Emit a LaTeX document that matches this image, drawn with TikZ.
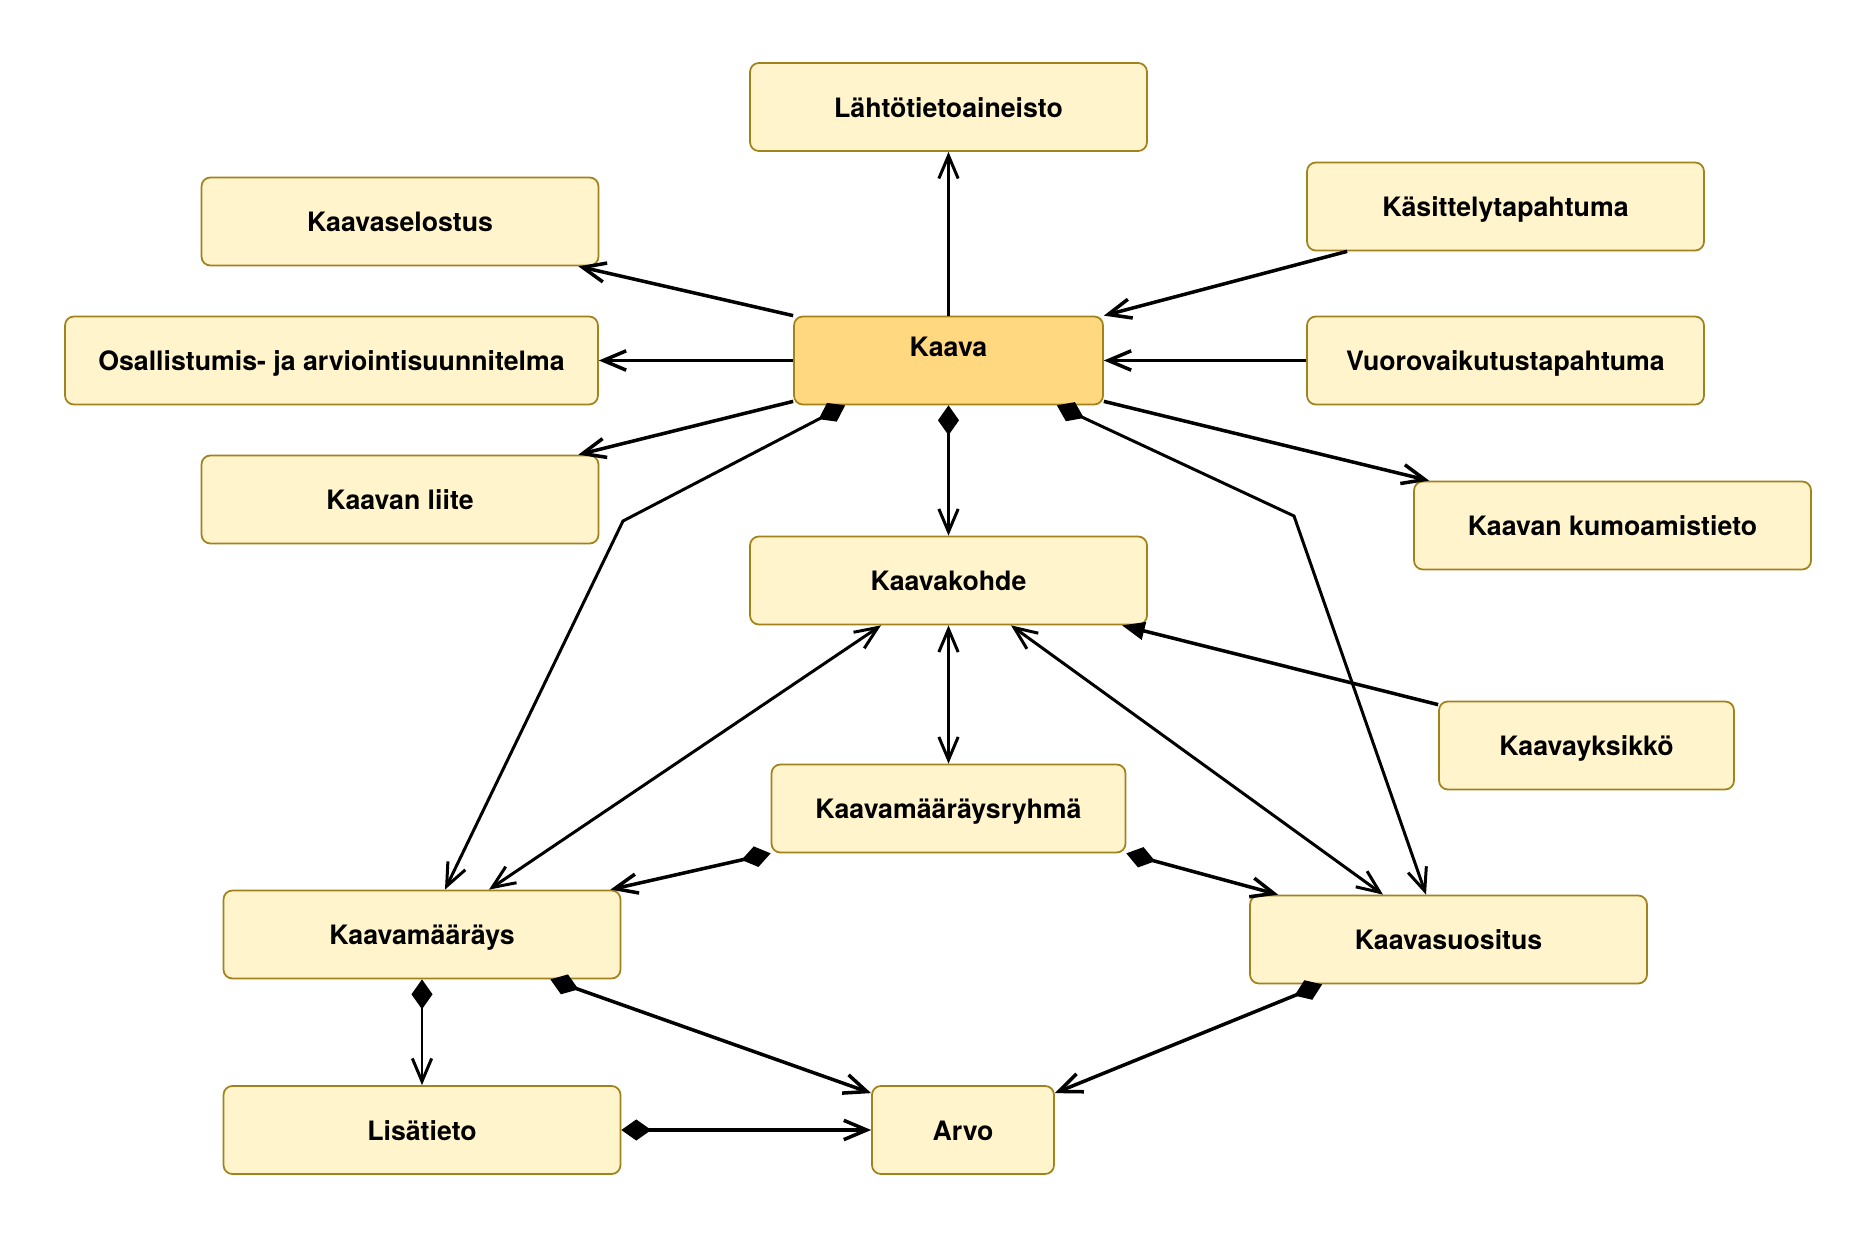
\documentclass[tikz,border=0pt]{standalone}
\usepackage{fontspec}
\setmainfont{TeX Gyre Heros}
\usetikzlibrary{arrows.meta}
\definecolor{boxfill}{HTML}{FFF4CC}
\definecolor{kaavafill}{HTML}{FFD880}
\definecolor{boxline}{HTML}{A2821A}
\begin{document}
\begin{tikzpicture}[x=0.02cm,y=-0.02cm,
  box/.style={draw=boxline, line width=1pt, fill=boxfill, rounded corners=5pt,
    minimum width=7.94cm, minimum height=1.76cm, inner sep=0pt,
    font=\bfseries\fontsize{15.2}{18}\selectfont, text height=1.44em, text depth=0.28em},
  conn/.style={line width=2pt, black},
  thinconn/.style={line width=1.7pt, black},
  toarr/.style={-{Straight Barb[length=13pt,width=11pt]}},
  twoarr/.style={{Straight Barb[length=13pt,width=11pt]}-{Straight Barb[length=13pt,width=11pt]}},
  diaarr/.style={{Diamond[length=17pt,width=12pt]}-{Straight Barb[length=13pt,width=11pt]}},
  triarr/.style={-{Triangle[length=13pt,width=10pt]}}]
\useasboundingbox[fill=white] (0,0) rectangle (1874,1239);

\node[box] (lahto) at (948.5,107) {Lähtötietoaineisto};
\node[box] (selostus) at (400,221.5) {Kaavaselostus};
\node[box] (kasittely) at (1505.5,206.5) {Käsittelytapahtuma};
\node[box, fill=kaavafill, minimum width=6.18cm, text height=0.5em, text depth=0.9em] (kaava) at (948.5,360.5) {Kaava};
\node[box, minimum width=10.66cm] (osall) at (331.5,360.5) {Osallistumis- ja arviointisuunnitelma};
\node[box] (vuoro) at (1505.5,360.5) {Vuorovaikutustapahtuma};
\node[box] (liite) at (400,499.5) {Kaavan liite};
\node[box] (kumoam) at (1612.5,525.5) {Kaavan kumoamistieto};
\node[box] (kohde) at (948.5,580.5) {Kaavakohde};
\node[box, minimum width=5.9cm] (yksikko) at (1586.5,745.5) {Kaavayksikkö};
\node[box, minimum width=7.08cm] (ryhma) at (948.5,808.5) {Kaavamääräysryhmä};
\node[box] (maarays) at (422,934.5) {Kaavamääräys};
\node[box] (suositus) at (1448.5,939.5) {Kaavasuositus};
\node[box] (lisa) at (422,1130) {Lisätieto};
\node[box, minimum width=3.64cm] (arvo) at (963,1130) {Arvo};

\coordinate (b1) at (623,521);
\coordinate (b2) at (1294,516);

\draw[thinconn, toarr] (kaava.north) -- (lahto.south);
\draw[conn, toarr] (kaava.north west) -- ([xshift=-0.42cm]selostus.south east);
\draw[conn, toarr] (kaava.west) -- (osall.east);
\draw[conn, toarr] ([yshift=0.08cm]kaava.south west) -- ([xshift=-0.42cm]liite.north east);
\draw[conn, toarr] ([xshift=0.82cm]kasittely.south west) -- (kaava.north east);
\draw[conn, toarr] (vuoro.west) -- (kaava.east);
\draw[conn, toarr] ([yshift=0.08cm]kaava.south east) -- ([xshift=0.32cm]kumoam.north west);
\draw[thinconn, diaarr] (kaava.south) -- (kohde.north);
\draw[thinconn, diaarr] ([xshift=1.04cm]kaava.south west) -- (b1) -- ([xshift=0.46cm]maarays.north);
\draw[thinconn, diaarr] ([xshift=-0.94cm]kaava.south east) -- (b2) -- ([xshift=-0.45cm]suositus.north);
\draw[thinconn, twoarr] ([xshift=-1.35cm]kohde.south) -- ([xshift=1.34cm]maarays.north);
\draw[thinconn, twoarr] (kohde.south) -- (ryhma.north);
\draw[thinconn, twoarr] ([xshift=1.25cm]kohde.south) -- ([xshift=-1.31cm]suositus.north);
\draw[conn, triarr] ([yshift=-0.08cm]yksikko.north west) -- ([xshift=-0.52cm]kohde.south east);
\draw[conn, diaarr] (ryhma.south west) -- ([xshift=-0.22cm]maarays.north east);
\draw[conn, diaarr] (ryhma.south east) -- ([xshift=0.58cm]suositus.north west);
\draw[thinconn, diaarr] (maarays.south) -- (lisa.north);
\draw[conn, diaarr] ([xshift=-1.42cm]maarays.south east) -- ([yshift=-0.16cm]arvo.north west);
\draw[conn, diaarr] (lisa.east) -- (arvo.west);
\draw[conn, diaarr] ([xshift=1.46cm]suositus.south west) -- ([yshift=-0.16cm]arvo.north east);
\end{tikzpicture}
\end{document}
